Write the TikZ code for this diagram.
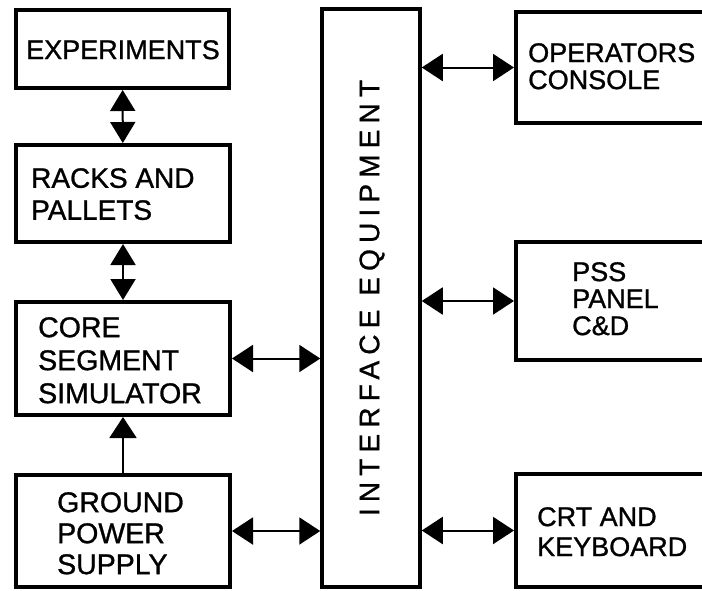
\documentclass[tikz,border=0pt]{standalone}
\usepackage{fontspec}
\setmainfont[FakeBold=1]{Liberation Sans}
\newfontfamily\spacedfont[LetterSpace=22,FakeBold=1]{Liberation Sans}
\usetikzlibrary{arrows.meta}
\tikzset{
  box/.style={draw, line width=4pt, inner sep=0pt},
  lbl/.style={anchor=north west, inner sep=0pt, align=left, font=\fontsize{28}{32}\selectfont},
  rlbl/.style={anchor=north west, inner sep=0pt, align=left, font=\fontsize{27}{27}\selectfont},
  conn/.style={line width=2pt},
  bigtip/.tip={Triangle[length=21pt,width=27pt]},
  smalltip/.tip={Triangle[length=21pt,width=25pt]},
  dbl/.style={conn, bigtip-bigtip},
  vdbl/.style={conn, smalltip-smalltip},
}
\begin{document}
\begin{tikzpicture}[x=1pt,y=-1pt]
\useasboundingbox (0,0) rectangle (702,590);
\clip (0,0) rectangle (702,590);
\fill[white] (0,0) rectangle (702,590);

% left column boxes
\node[box, minimum width=213pt, minimum height=78pt] (exp) at (122.5,49) {};
\node[box, minimum width=214pt, minimum height=97pt] (racks) at (123,193.5) {};
\node[box, minimum width=214pt, minimum height=113pt] (core) at (123,358.5) {};
\node[box, minimum width=214pt, minimum height=112pt] (ground) at (123,531) {};

% interface
\node[box, line width=3.5pt, minimum width=98pt, minimum height=578pt] (iface) at (371,298) {};

% right column boxes (cut off at the right edge)
\node[box, minimum width=200pt, minimum height=111pt] (ops) at (616,67.5) {};
\node[box, minimum width=200pt, minimum height=118pt] (pss) at (616,301) {};
\node[box, minimum width=200pt, minimum height=113pt] (crt) at (616,530.5) {};

% labels
\node[lbl, font=\fontsize{27}{32}\selectfont] (exptxt) at (26,40) {EXPERIMENTS};
\node[lbl] (rackstxt) at (31,168) {RACKS AND\\PALLETS};
\node[lbl, font=\fontsize{28.5}{33}\selectfont] (coretxt) at (38,317) {CORE\\SEGMENT\\SIMULATOR};
\node[lbl, font=\fontsize{28.5}{31}\selectfont] (groundtxt) at (57,492) {GROUND\\POWER\\SUPPLY};
\node[rlbl] (opstxt) at (528,43) {OPERATORS\\CONSOLE};
\node[rlbl] (psstxt) at (572,262) {PSS\\PANEL\\C\&D};
\node[rlbl, font=\fontsize{27}{30}\selectfont] (crttxt) at (537,507) {CRT AND\\KEYBOARD};
\node[inner sep=0pt, rotate=90, font=\fontsize{28}{28}\spacedfont] (ifacetxt) at (372,298) {INTERFACE EQUIPMENT};

% connectors
\draw[vdbl] (exp) -- (racks);
\draw[vdbl] (racks) -- (core);
\draw[conn, -bigtip] (ground) -- (core);
\draw[dbl] (core.east) -- (core.east -| iface.west);
\draw[dbl] (ground.east) -- (ground.east -| iface.west);
\draw[dbl] (ops.west -| iface.east) -- (ops.west);
\draw[dbl] (pss.west -| iface.east) -- (pss.west);
\draw[dbl] (crt.west -| iface.east) -- (crt.west);
\end{tikzpicture}
\end{document}
